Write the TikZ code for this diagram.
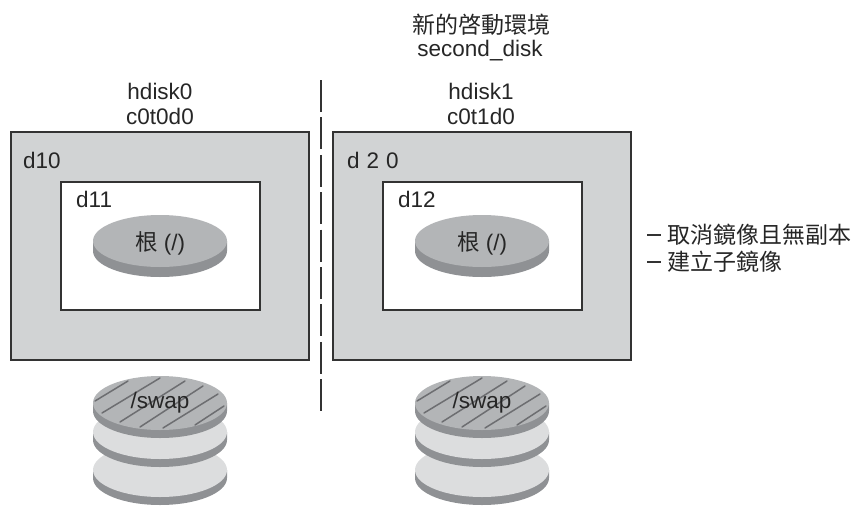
\documentclass[tikz,border=0pt]{standalone}
\usepackage{fontspec}
\setmainfont{Liberation Sans}
\newfontfamily\cjk{Noto Sans CJK TC}
\definecolor{boxgray}{HTML}{D1D3D4}
\definecolor{topgray}{HTML}{B3B5B7}
\definecolor{sidegray}{HTML}{8F9194}
\definecolor{hatchgray}{HTML}{6D6E71}
\definecolor{lightgray2}{HTML}{DCDDDE}
\definecolor{linedark}{HTML}{333333}
\tikzset{
 outerbox/.style={draw=linedark,line width=1.3pt,fill=boxgray,minimum width=298pt,minimum height=228pt,inner sep=0pt},
 innerbox/.style={draw=linedark,line width=1.1pt,fill=white,minimum width=199pt,minimum height=128pt,inner sep=0pt},
 lbl/.style={font=\fontsize{22.5}{26}\selectfont,text=black!85,inner sep=0pt},
 cjklbl/.style={font=\fontsize{23}{26}\selectfont\cjk,text=black!85,inner sep=0pt},
 divline/.style={draw=linedark,line width=1.1pt},
}
\newcommand{\rootdisk}[2]{%
 \fill[sidegray] (#1-67,#2) -- (#1-67,#2+10) arc[start angle=180,end angle=0,x radius=67,y radius=26] -- (#1+67,#2) -- cycle;
 \fill[topgray] (#1,#2) ellipse[x radius=67,y radius=26];
}
\newcommand{\stackdisk}[3]{%
 \fill[sidegray] (#1-67,#2) -- (#1-67,#2+8) arc[start angle=180,end angle=0,x radius=67,y radius=27] -- (#1+67,#2) -- cycle;
 \fill[#3] (#1,#2) ellipse[x radius=67,y radius=27];
}
\newcommand{\swapstack}[1]{%
 \stackdisk{#1}{470}{lightgray2}
 \stackdisk{#1}{432}{lightgray2}
 \stackdisk{#1}{403}{topgray}
 \begin{scope}[shift={(#1-160,0)}]
 \clip (160,403) ellipse[x radius=67,y radius=27];
 \foreach \a/\b/\c/\d in {95/401/128/381, 102/413/160/378, 120/422/185/381, 140/427/203/386, 163/428/218/394, 195/425/224/406}
   \draw[hatchgray,line width=1.5pt,line cap=round] (\a,\b) -- (\c,\d);
 \end{scope}
}
\begin{document}
\begin{tikzpicture}[x=1pt,y=-1pt]
\useasboundingbox (0,0) rectangle (859,506);
\node[outerbox] (outerL) at (160,246) {};
\node[outerbox] (outerR) at (482,246) {};
\node[innerbox] (innerL) at (160.5,246) {};
\node[innerbox] (innerR) at (482.5,246) {};
\rootdisk{160}{241}
\rootdisk{482}{241}
\swapstack{160}
\swapstack{482}
\foreach \i in {0,...,8}
  \draw[divline] (321,80+37.4*\i) -- (321,112+37.4*\i);
\node[cjklbl] (title) at (481,25) {新的啓動環境};
\node[lbl] (second) at (480,51) {second\_disk};
\node[lbl] (h0) at (160,91) {hdisk0};
\node[lbl] (c0) at (160,116) {c0t0d0};
\node[lbl] (h1) at (481,91) {hdisk1};
\node[lbl] (c1) at (481,116) {c0t1d0};
\node[lbl,anchor=west] (d10) at (23,160) {d10};
\node[lbl,anchor=west] (d20) at (347,160) {d\kern7pt 2\kern7pt 0};
\node[lbl,anchor=west] (d11) at (76,199) {d11};
\node[lbl,anchor=west] (d12) at (398,199) {d12};
\node[lbl] (rootL) at (160,243) {{\cjk 根} (/)};
\node[lbl] (rootR) at (482,243) {{\cjk 根} (/)};
\node[lbl] (swapL) at (160,403) {/swap};
\node[lbl] (swapR) at (482,403) {/swap};
\node[cjklbl,anchor=west] (n1) at (667,235) {取消鏡像且無副本};
\node[cjklbl,anchor=west] (n2) at (667,262) {建立子鏡像};
\coordinate (n1a) at (647,235); \coordinate (n2a) at (647,262);
\draw[line width=1.5pt,linedark] (n1a) -- (n1.west -| 661,0);
\draw[line width=1.5pt,linedark] (n2a) -- (n2.west -| 661,0);
\end{tikzpicture}
\end{document}
